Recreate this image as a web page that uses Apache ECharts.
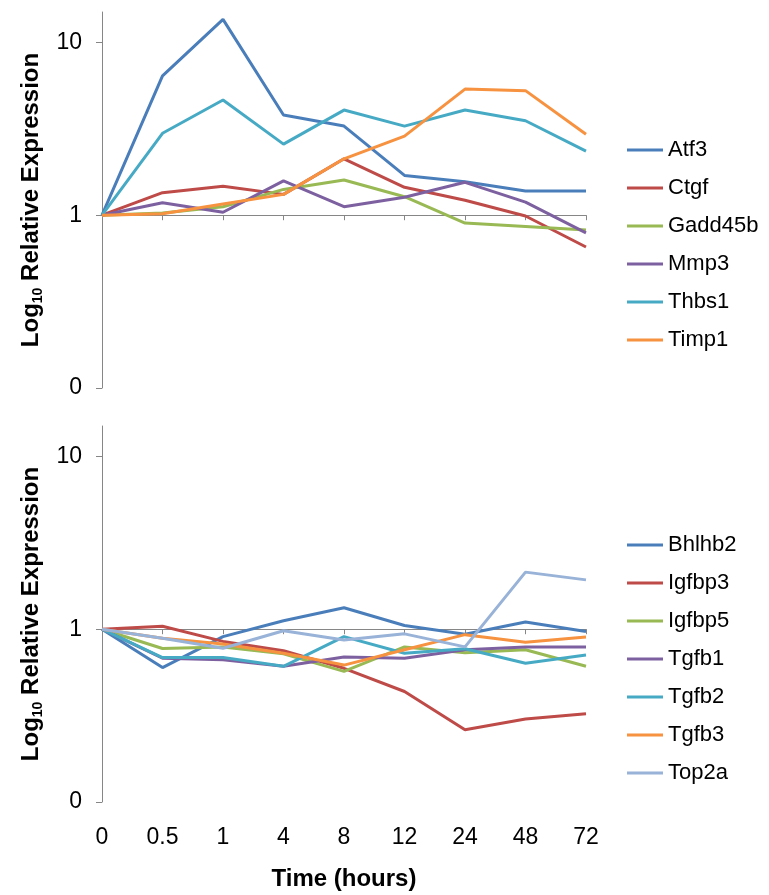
<!DOCTYPE html>
<html>
<head>
<meta charset="utf-8">
<script src="https://cdn.jsdelivr.net/npm/echarts@6/dist/echarts.min.js"></script>
<style>html,body{margin:0;padding:0;background:#fff}#c{width:769px;height:895px}</style>
</head>
<body>
<div id="c"></div>
<script>
var categories = ['0', '0.5', '1', '4', '8', '12', '24', '48', '72'];
var yTickValues = [0.1, 1, 10];
var yTickLabels = ['0', '1', '10'];

var topNames = ['Atf3', 'Ctgf', 'Gadd45b', 'Mmp3', 'Thbs1', 'Timp1'];
var atf3    = [1, 6.4, 13.6, 3.8, 3.28, 1.7, 1.56, 1.38, 1.38];
var ctgf    = [1, 1.35, 1.47, 1.32, 2.12, 1.45, 1.22, 0.99, 0.655];
var gadd45b = [1, 1.03, 1.12, 1.41, 1.6, 1.28, 0.9, 0.86, 0.82];
var mmp3    = [1, 1.18, 1.04, 1.58, 1.12, 1.27, 1.55, 1.19, 0.79];
var thbs1   = [1, 2.98, 4.64, 2.58, 4.06, 3.28, 4.06, 3.52, 2.35];
var timp1   = [1, 1.02, 1.16, 1.32, 2.12, 2.87, 5.37, 5.26, 2.94];

var bottomNames = ['Bhlhb2', 'Igfbp3', 'Igfbp5', 'Tgfb1', 'Tgfb2', 'Tgfb3', 'Top2a'];
var bhlhb2 = [1, 0.6, 0.906, 1.12, 1.33, 1.05, 0.935, 1.1, 0.97];
var igfbp3 = [1, 1.04, 0.85, 0.75, 0.594, 0.436, 0.262, 0.302, 0.324];
var igfbp5 = [1, 0.773, 0.79, 0.72, 0.57, 0.79, 0.73, 0.76, 0.61];
var tgfb1  = [1, 0.68, 0.665, 0.61, 0.69, 0.68, 0.76, 0.79, 0.79];
var tgfb2  = [1, 0.685, 0.685, 0.61, 0.906, 0.726, 0.77, 0.636, 0.71];
var tgfb3  = [1, 0.887, 0.82, 0.726, 0.62, 0.76, 0.93, 0.84, 0.9];
var top2a  = [1, 0.887, 0.776, 0.98, 0.867, 0.94, 0.79, 2.14, 1.93];

var topData = [atf3, ctgf, gadd45b, mmp3, thbs1, timp1];
var bottomData = [bhlhb2, igfbp3, igfbp5, tgfb1, tgfb2, tgfb3, top2a];
var topColors = ['#4A7EBB', '#BE4B48', '#98B954', '#7D60A0', '#46AAC5', '#F69240'];
var bottomColors = ['#4A7EBB', '#BE4B48', '#98B954', '#7D60A0', '#46AAC5', '#F69240', '#98B2D8'];

var FONT = '"Liberation Sans", Arial, sans-serif';
var AXIS = '#868686';
var yMin = 0.1, yMax = 15;
var gridH = 376;
var oneOffset = -gridH * (Math.log10(1) - Math.log10(yMin)) / (Math.log10(yMax) - Math.log10(yMin));

function yAxis(gi) {
  return {
    type: 'log', logBase: 10, gridIndex: gi, min: yMin, max: yMax,
    name: '{a|Log}{s|10}{a| Relative Expression}',
    nameLocation: 'middle', nameGap: 56,
    nameTextStyle: {
      rich: {
        a: { fontSize: 24, fontWeight: 'bold', fontFamily: FONT, color: '#000', lineHeight: 28 },
        s: { fontSize: 14, fontWeight: 'bold', fontFamily: FONT, color: '#000', lineHeight: 28, verticalAlign: 'bottom' }
      }
    },
    axisLine: { show: true, lineStyle: { color: AXIS, width: 1 } },
    axisTick: { show: true, length: 6, inside: false, lineStyle: { color: AXIS }, customValues: yTickValues },
    axisLabel: {
      show: true, margin: 20, fontSize: 23, fontFamily: FONT, color: '#000',
      customValues: yTickValues,
      formatter: function (v) {
        for (var i = 0; i < yTickValues.length; i++) {
          if (Math.abs(v - yTickValues[i]) < 1e-9) return yTickLabels[i];
        }
        return '';
      }
    },
    splitLine: { show: false }
  };
}

function lineAxis(gi) {
  return {
    type: 'category', gridIndex: gi, data: categories, boundaryGap: false,
    position: 'bottom', offset: oneOffset,
    axisLine: { show: true, onZero: false, lineStyle: { color: AXIS, width: 1 } },
    axisTick: { show: true, length: 5, lineStyle: { color: AXIS } },
    axisLabel: { show: false },
    splitLine: { show: false }
  };
}

var series = [];
topNames.forEach(function (n, i) {
  series.push({
    name: n, type: 'line', xAxisIndex: 0, yAxisIndex: 0, data: topData[i],
    symbol: 'none', lineStyle: { width: 3, color: topColors[i] }, itemStyle: { color: topColors[i] }, animation: false
  });
});
bottomNames.forEach(function (n, i) {
  series.push({
    name: n, type: 'line', xAxisIndex: 1, yAxisIndex: 1, data: bottomData[i],
    symbol: 'none', lineStyle: { width: 3, color: bottomColors[i] }, itemStyle: { color: bottomColors[i] }, animation: false
  });
});

var legendCommon = {
  orient: 'vertical', left: 627, padding: 0, icon: 'rect', itemWidth: 36, itemHeight: 3, itemGap: 16,
  textStyle: { fontSize: 22, fontFamily: FONT, color: '#000' }
};

var option = {
  backgroundColor: '#fff',
  animation: false,
  grid: [
    { left: 102, top: 12, width: 484, height: gridH },
    { left: 102, top: 426, width: 484, height: gridH }
  ],
  xAxis: [
    lineAxis(0),
    lineAxis(1),
    {
      type: 'category', gridIndex: 1, data: categories, boundaryGap: false, position: 'bottom', offset: 0,
      axisLine: { show: false, onZero: false }, axisTick: { show: false },
      axisLabel: { show: true, margin: 24, fontSize: 23, fontFamily: FONT, color: '#000', interval: 0 },
      name: 'Time (hours)', nameLocation: 'middle', nameGap: 65,
      nameTextStyle: { fontSize: 24, fontWeight: 'bold', fontFamily: FONT, color: '#000' }
    }
  ],
  yAxis: [yAxis(0), yAxis(1)],
  legend: [
    Object.assign({ top: 139, data: topNames }, legendCommon),
    Object.assign({ top: 534, data: bottomNames }, legendCommon)
  ],
  series: series
};

var chart = echarts.init(document.getElementById('c'), null, { renderer: 'canvas' });
chart.setOption(option);
</script>
</body>
</html>
